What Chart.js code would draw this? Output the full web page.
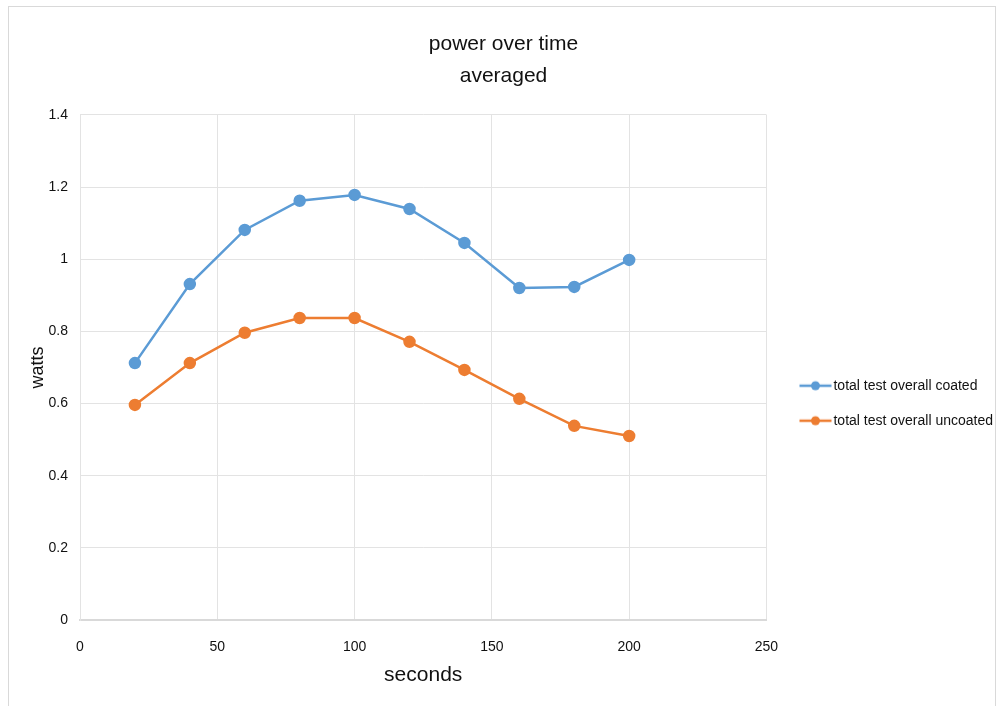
<!DOCTYPE html>
<html>
<head>
<meta charset="utf-8">
<script src="https://cdn.jsdelivr.net/npm/chart.js@4/dist/chart.umd.min.js"></script>
<style>
  body { margin: 0; background: #fff; }
  #wrap { position: relative; width: 1003px; height: 706px; }
  #frame { position: absolute; left: 8px; top: 6px; width: 988px; height: 710px; border: 1px solid #d9d9d9; box-sizing: border-box; }
</style>
</head>
<body>
<div id="wrap">
  <div id="frame"></div>
  <canvas id="myChart" width="1003" height="706"></canvas>
</div>
<script>
let seconds = [20, 40, 60, 80, 100, 120, 140, 160, 180, 200];
let coated = [0.712, 0.931, 1.081, 1.162, 1.178, 1.139, 1.045, 0.920, 0.923, 0.998];
let uncoated = [0.596, 0.712, 0.796, 0.837, 0.837, 0.771, 0.693, 0.613, 0.538, 0.510];
let seriesNames = ["total test overall coated", "total test overall uncoated"];
let colors = ["#5b9bd5", "#ed7d31"];

function toPoints(ys) {
  return seconds.map(function(x, i) { return { x: x, y: ys[i] }; });
}

// line + dot swatch for the legend (wider canvas, drawn on its right part)
function swatch(color) {
  let c = document.createElement("canvas");
  c.width = 52; c.height = 12;
  let g = c.getContext("2d");
  g.strokeStyle = color;
  g.lineWidth = 2.5;
  g.beginPath(); g.moveTo(18.5, 6); g.lineTo(50.5, 6); g.stroke();
  g.fillStyle = color;
  g.beginPath(); g.arc(34.5, 6, 4.5, 0, Math.PI * 2); g.fill();
  return c;
}

Chart.defaults.font.family = "'Liberation Sans', Arial, sans-serif";
Chart.defaults.color = "#1a1a1a";

new Chart(document.getElementById("myChart"), {
  type: 'line',
  data: {
    datasets: [{
      label: seriesNames[0],
      data: toPoints(coated),
      borderColor: colors[0],
      backgroundColor: colors[0],
      borderWidth: 2.5,
      pointRadius: 5,
      pointStyle: 'circle',
      pointLegend: swatch(colors[0])
    }, {
      label: seriesNames[1],
      data: toPoints(uncoated),
      borderColor: colors[1],
      backgroundColor: colors[1],
      borderWidth: 2.5,
      pointRadius: 5,
      pointStyle: 'circle',
      pointLegend: swatch(colors[1])
    }]
  },
  options: {
    responsive: false,
    animation: false,
    layout: { padding: { left: 4, right: 0, top: 10, bottom: 16 } },
    plugins: {
      title: {
        display: true,
        text: ['power over time', 'averaged'],
        font: { size: 21, weight: 'normal', lineHeight: 1.52 },
        padding: { top: 18, bottom: 23 },
        color: '#111'
      },
      legend: {
        position: 'right',
        title: { display: true, text: ' ', font: { size: 12 }, padding: { top: 0, bottom: 92 } },
        labels: {
          usePointStyle: true,
          pointStyleWidth: 39,
          boxHeight: 12,
          padding: 21,
          font: { size: 14 },
          color: '#111',
          generateLabels: function(chart) {
            return chart.data.datasets.map(function(ds, i) {
              return {
                text: ds.label,
                pointStyle: ds.pointLegend,
                datasetIndex: i,
                fontColor: '#111',
                hidden: false
              };
            });
          }
        }
      },
      tooltip: { enabled: false }
    },
    scales: {
      x: {
        type: 'linear',
        min: 0,
        max: 250,
        afterFit: function(scale) { scale.height = 70; },
        ticks: { stepSize: 50, font: { size: 14 }, padding: 19, color: '#111' },
        grid: { color: '#e3e3e3', drawTicks: false },
        border: { color: '#d9d9d9', width: 2 },
        title: { display: true, text: 'seconds', font: { size: 21 }, color: '#111', padding: { top: 0, bottom: 2 } }
      },
      y: {
        min: 0,
        max: 1.4,
        afterFit: function(scale) { scale.width = 76; },
        ticks: {
          stepSize: 0.2, font: { size: 14 }, padding: 12, color: '#111',
          callback: function(v) { return String(Math.round(v * 10) / 10); }
        },
        grid: { color: '#e3e3e3', drawTicks: false },
        border: { color: '#e3e3e3' },
        title: { display: true, text: 'watts', font: { size: 18 }, color: '#111', padding: { top: 23, bottom: 0 } }
      }
    }
  }
});
</script>
</body>
</html>
